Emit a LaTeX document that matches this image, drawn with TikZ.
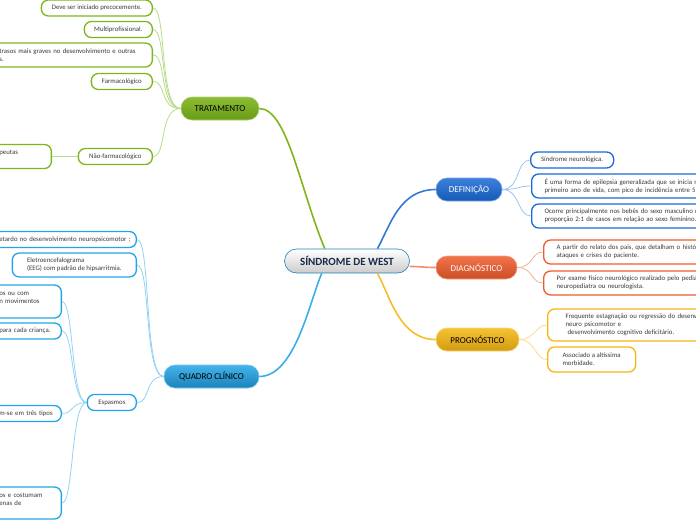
\documentclass[tikz,border=0pt]{standalone}
\usepackage{fontspec}
\setmainfont{Carlito}
\usepackage{tikz}
\usetikzlibrary{positioning}
\usepackage{xcolor}

\definecolor{navy}{HTML}{1B2A45}
\definecolor{txt}{HTML}{3A3A3A}
\definecolor{grn}{HTML}{7DB61C}
\definecolor{grnL}{HTML}{B7DC8A}
\definecolor{dblue}{HTML}{1B6AD6}
\definecolor{dblueL}{HTML}{9DC3F0}
\definecolor{dred}{HTML}{EF5B2B}
\definecolor{dredL}{HTML}{F7AE93}
\definecolor{amber}{HTML}{F6B713}
\definecolor{amberL}{HTML}{FBDB85}
\definecolor{sky}{HTML}{22A5E8}
\definecolor{skyL}{HTML}{93D2F5}

\begin{document}
\begin{tikzpicture}[x=1pt, y=-1pt,
    topic/.style={rounded corners=11pt, inner sep=0pt, minimum height=23pt, line width=0.6pt,
        font=\fontsize{9}{10}\selectfont},
    leaf/.style={draw, fill=white, line width=1.3pt, rounded corners=7pt, inner xsep=9pt,
        inner ysep=0pt, minimum height=16pt, text=txt, align=left,
        font=\fontsize{6.8}{8}\selectfont},
    wide/.style={inner xsep=13pt},
    link/.style={line width=1.6pt},
    twig/.style={line width=0.8pt}]
    \useasboundingbox (0,0) rectangle (696,520);

    % Central topic
    \node[topic, minimum width=125pt, minimum height=24pt, rounded corners=12pt,
        top color=white, bottom color=gray!40, draw=sky!80!black, text=navy,
        font=\fontsize{11}{12}\selectfont\bfseries] (sindrome) at (347,261) {SÍNDROME DE WEST};

    % Branch topics
    \node[topic, minimum width=78pt, top color=grn!90!white, bottom color=grn!85!black,
        draw=grn!60!white] (trat) at (220,108.5) {TRATAMENTO};
    \node[topic, minimum width=66pt, top color=dblue!85!white, bottom color=dblue!85!black,
        draw=dblue!60!white, text=white] (defin) at (469,189.5) {DEFINIÇÃO};
    \node[topic, minimum width=81pt, top color=dred!85!white, bottom color=dred!85!black,
        draw=dred!60!white, text=white] (diag) at (476.5,267.5) {DIAGNÓSTICO};
    \node[topic, minimum width=83pt, top color=amber!85!white, bottom color=amber!85!black,
        draw=amber!60!white] (prog) at (477.5,339.5) {PROGNÓSTICO};
    \node[topic, minimum width=95pt, top color=sky!85!white, bottom color=sky!80!black,
        draw=sky!60!white] (quadro) at (211.5,376.5) {QUADRO CLÍNICO};

    % Main links
    \draw[link, grn] (trat.east) .. controls +(28,0) and +(-25,-60) .. (sindrome.151);
    \draw[link, dblue!90] (sindrome.22) .. controls +(13,-24) and +(-36,0) .. (defin.west);
    \draw[link, dred!70] (sindrome.-5) .. controls +(12,0) and +(-12,0) .. (diag.west);
    \draw[link, amber!90] (sindrome.-22) .. controls +(13,24) and +(-36,0) .. (prog.west);
    \draw[link, sky!90] (sindrome.206) .. controls +(-12,27) and +(36,0) .. (quadro.east);

    % Tratamento
    \node[leaf, draw=grn, minimum width=111pt, anchor=east] (t1) at (153,8) {Deve ser iniciado precocemente.};
    \node[leaf, draw=grn, minimum width=68pt, anchor=east] (t2) at (153,29.5) {Multiprofissional.};
    \node[leaf, wide, draw=grn, text width=140pt, minimum height=24pt, anchor=east] (t3) at (153,55)
        {trasos mais graves no desenvolvimento e outras\\s.};
    \node[leaf, draw=grn, minimum width=61pt, anchor=east] (t4) at (153,81.5) {Farmacológico};
    \node[leaf, draw=grn, minimum width=74pt, anchor=east] (t5) at (153,156.5) {Não-farmacológico};
    \node[leaf, wide, draw=grn, text width=39pt, minimum height=24pt, anchor=east] (t6) at (52,156.5)
        {peutas\\\mbox{}};
    \draw[twig, grnL] (trat.west) .. controls +(-22,0) and +(14,0) .. (t1.east);
    \draw[twig, grnL] (trat.west) .. controls +(-22,0) and +(14,0) .. (t2.east);
    \draw[twig, grnL] (trat.west) .. controls +(-22,0) and +(14,0) .. (t3.east);
    \draw[twig, grnL] (trat.west) .. controls +(-22,0) and +(14,0) .. (t4.east);
    \draw[twig, grnL] (trat.west) .. controls +(-22,0) and +(14,0) .. (t5.east);
    \draw[line width=1.8pt, grnL] (t5.west) -- (t6.east);

    % Definicao
    \node[leaf, draw=dblue, minimum width=83pt, anchor=west] (d1) at (530,160) {Síndrome neurológica.};
    \node[leaf, wide, draw=dblue, text width=200pt, minimum height=24pt, anchor=west] (d2) at (531,186)
        {É uma forma de epilepsia generalizada que se inicia no\\primeiro ano de vida, com pico de incidência entre 5 e};
    \node[leaf, wide, draw=dblue, text width=200pt, minimum height=24pt, anchor=west] (d3) at (531,216)
        {Ocorre principalmente nos bebês do sexo masculino na\\proporção 2:1 de casos em relação ao sexo feminino.};
    \draw[twig, dblueL] (defin.east) .. controls +(18,0) and +(-14,0) .. (d1.west);
    \draw[twig, dblueL] (defin.east) .. controls +(18,0) and +(-14,0) .. (d2.west);
    \draw[twig, dblueL] (defin.east) .. controls +(18,0) and +(-14,0) .. (d3.west);

    % Diagnostico
    \node[leaf, wide, draw=dred, text width=200pt, minimum height=24pt, anchor=west] (g1) at (543,252)
        {A partir do relato dos pais, que detalham o históric\\ataques e crises do paciente.};
    \node[leaf, wide, draw=dred, text width=200pt, minimum height=24pt, anchor=west] (g2) at (543,283)
        {Por exame físico neurológico realizado pelo pedia\\neuropediatra ou neurologista.};
    \draw[twig, dredL] (diag.east) .. controls +(16,0) and +(-12,0) .. (g1.west);
    \draw[twig, dredL] (diag.east) .. controls +(16,0) and +(-12,0) .. (g2.west);

    % Prognostico
    \node[leaf, inner xsep=18pt, draw=amber, text width=200pt, minimum height=32pt, anchor=west] (p1) at (547,325)
        {Frequente estagnação ou regressão do desenv\\neuro psicomotor e\\\hspace*{2pt}desenvolvimento cognitivo deficitário.};
    \node[leaf, wide, draw=amber, minimum width=88pt, minimum height=25pt, anchor=west] (p2) at (547,359.5)
        {Associado a altíssima\\morbidade.};
    \draw[twig, amberL] (prog.east) .. controls +(16,0) and +(-12,0) .. (p1.west);
    \draw[twig, amberL] (prog.east) .. controls +(16,0) and +(-12,0) .. (p2.west);

    % Quadro clinico
    \node[leaf, draw=sky, text width=128pt, anchor=east] (q1) at (137,239.5)
        {\mbox{etardo no desenvolvimento neuropsicomotor ;}};
    \node[leaf, wide, draw=sky, minimum width=124pt, minimum height=24pt, anchor=east] (q2) at (137,265)
        {Eletroencefalograma\\(EEG) com padrão de hipsarritmia.};
    \node[leaf, draw=sky, minimum width=49pt, anchor=east] (q3) at (137,402.5) {Espasmos};
    \draw[twig, skyL] (quadro.west) .. controls +(-20,0) and +(14,0) .. (q1.east);
    \draw[twig, skyL] (quadro.west) .. controls +(-20,0) and +(14,0) .. (q2.east);
    \draw[twig, skyL] (quadro.west) .. controls +(-20,0) and +(14,0) .. (q3.east);

    % Espasmos
    \node[leaf, wide, draw=sky, text width=49pt, minimum height=33pt, anchor=east] (e1) at (62,301.5)
        {os ou com\\n movimentos\\\mbox{}};
    \node[leaf, draw=sky, text width=53pt, anchor=east] (e2) at (62,331) {\mbox{para cada criança.}};
    \node[leaf, draw=sky, text width=53pt, anchor=east] (e3) at (62,413.5) {\mbox{m-se em três tipos}};
    \node[leaf, wide, draw=sky, text width=49pt, minimum height=32pt, anchor=east] (e4) at (62,503)
        {os e costumam\\enas de\\\mbox{}};
    \draw[twig, skyL] (q3.west) .. controls +(-16,0) and +(12,0) .. (e1.east);
    \draw[twig, skyL] (q3.west) .. controls +(-16,0) and +(12,0) .. (e2.east);
    \draw[twig, skyL] (q3.west) .. controls +(-16,0) and +(12,0) .. (e3.east);
    \draw[twig, skyL] (q3.west) .. controls +(-16,0) and +(12,0) .. (e4.east);
\end{tikzpicture}
\end{document}
